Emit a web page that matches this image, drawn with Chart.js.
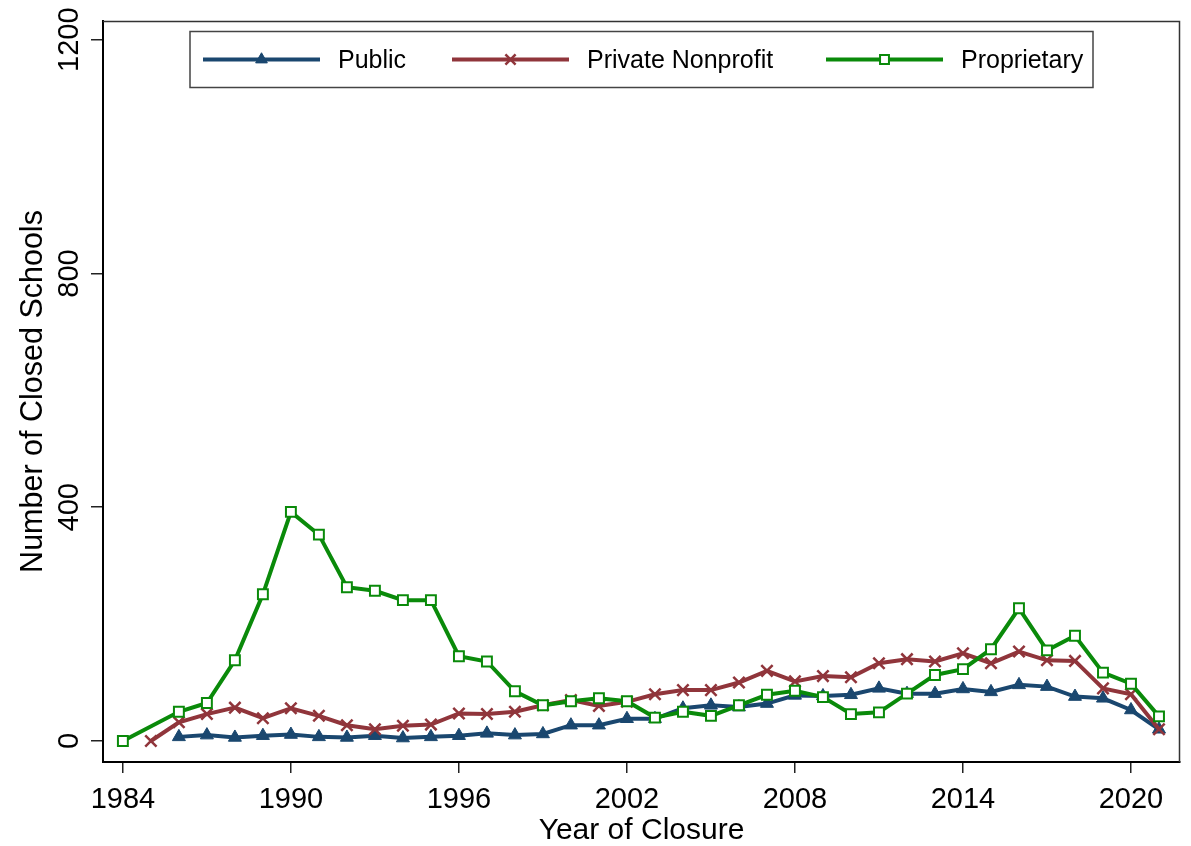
<!DOCTYPE html>
<html>
<head>
<meta charset="utf-8">
<script src="https://cdn.jsdelivr.net/npm/chart.js@4.4.0/dist/chart.umd.min.js"></script>
<style>
  html, body { margin: 0; padding: 0; background: #ffffff; }
  #wrap { width: 1191px; height: 846px; }
</style>
</head>
<body>
<div id="wrap"><canvas id="c" width="1191" height="846"></canvas></div>
<script>
// ---- data ----
const years = [1984,1985,1986,1987,1988,1989,1990,1991,1992,1993,1994,1995,1996,1997,1998,1999,
               2000,2001,2002,2003,2004,2005,2006,2007,2008,2009,2010,2011,2012,2013,2014,2015,
               2016,2017,2018,2019,2020,2021];
const publicVals = [null,null,7,10,6,9,11,7,6,9,5,7,9,13,10,12,
                    27,27,38,38,56,61,58,64,78,77,79,90,81,81,89,84,
                    96,93,76,73,53,20];
const privateVals = [null,0,32,46,57,39,56,43,27,20,26,28,47,46,50,61,
                     70,60,67,80,87,87,100,120,102,111,109,133,140,136,150,133,
                     153,138,137,90,80,20];
const proprietaryVals = [0,null,50,65,138,251,392,353,263,257,241,241,145,136,85,61,
                         68,73,68,40,50,43,61,79,86,75,46,49,81,113,123,157,
                         227,155,180,117,98,42];
const seriesNames = ['Public', 'Private Nonprofit', 'Proprietary'];
const xTicks = [1984, 1990, 1996, 2002, 2008, 2014, 2020];
const yTicks = [0, 400, 800, 1200];
const xTitle = 'Year of Closure';
const yTitle = 'Number of Closed Schools';

const FONT = '"Liberation Sans", Arial, sans-serif';
const NAVY = '#1a476f', MAROON = '#90353b', GREEN = '#0a8a0a';

function pts(vals) {
  return years.map((y, i) => ({ x: y, y: vals[i] })).filter(p => p.y !== null);
}

const datasets = [
  { label: seriesNames[0], data: pts(publicVals), borderColor: NAVY, borderWidth: 4,
    pointStyle: 'triangle', pointRadius: 7.5, pointBackgroundColor: NAVY, pointBorderColor: NAVY,
    pointBorderWidth: 1, order: 2, tension: 0 },
  { label: seriesNames[1], data: pts(privateVals), borderColor: MAROON, borderWidth: 4,
    pointStyle: 'crossRot', pointRadius: 8, pointBackgroundColor: MAROON, pointBorderColor: MAROON,
    pointBorderWidth: 2.5, order: 1, tension: 0 },
  { label: seriesNames[2], data: pts(proprietaryVals), borderColor: GREEN, borderWidth: 4,
    pointStyle: 'rect', pointRadius: 7, pointBackgroundColor: '#ffffff', pointBorderColor: GREEN,
    pointBorderWidth: 2, order: 0, tension: 0 }
];

function drawMarker(ctx, ds, x, y, scale) {
  const r = ds.pointRadius * scale;
  ctx.save();
  ctx.fillStyle = ds.pointBackgroundColor;
  ctx.strokeStyle = ds.pointBorderColor;
  ctx.lineWidth = ds.pointBorderWidth;
  ctx.beginPath();
  if (ds.pointStyle === 'triangle') {
    for (let k = 0; k < 3; k++) {
      const a = k * 2 * Math.PI / 3;
      const px = x + Math.sin(a) * r, py = y - Math.cos(a) * r;
      if (k === 0) ctx.moveTo(px, py); else ctx.lineTo(px, py);
    }
    ctx.closePath(); ctx.fill(); ctx.stroke();
  } else if (ds.pointStyle === 'crossRot') {
    const o = Math.SQRT1_2 * r;
    ctx.moveTo(x - o, y - o); ctx.lineTo(x + o, y + o);
    ctx.moveTo(x - o, y + o); ctx.lineTo(x + o, y - o);
    ctx.stroke();
  } else {
    const s = Math.SQRT1_2 * r;
    ctx.rect(x - s, y - s, 2 * s, 2 * s);
    ctx.fill(); ctx.stroke();
  }
  ctx.restore();
}

const framePlugin = {
  id: 'frameAndLegend',
  afterDraw(chart) {
    const ctx = chart.ctx, a = chart.chartArea;
    ctx.save();
    // top and right plot border
    ctx.strokeStyle = '#333';
    ctx.lineWidth = 1.5;
    ctx.beginPath();
    ctx.moveTo(a.left, a.top + 0.5);
    ctx.lineTo(a.right - 0.5, a.top + 0.5);
    ctx.lineTo(a.right - 0.5, a.bottom);
    ctx.stroke();
    // legend box
    const bx = 190, by = 31.5, bw = 903, bh = 56;
    ctx.fillStyle = '#fff';
    ctx.fillRect(bx, by, bw, bh);
    ctx.strokeStyle = '#444';
    ctx.lineWidth = 1.5;
    ctx.strokeRect(bx, by, bw, bh);
    const starts = [203, 452, 826];
    const ly = by + bh / 2;
    chart.data.datasets.forEach((ds, i) => {
      const sx = starts[i];
      ctx.strokeStyle = ds.borderColor;
      ctx.lineWidth = 4;
      ctx.beginPath();
      ctx.moveTo(sx, ly); ctx.lineTo(sx + 117, ly);
      ctx.stroke();
      drawMarker(ctx, ds, sx + 58.5, ly, 0.9);
      ctx.fillStyle = '#000';
      ctx.font = '25px ' + FONT;
      ctx.textBaseline = 'middle';
      ctx.textAlign = 'left';
      ctx.fillText(ds.label, sx + 135, ly + 2);
    });
    ctx.restore();
  }
};

new Chart(document.getElementById('c'), {
  type: 'line',
  data: { datasets },
  options: {
    responsive: false,
    animation: false,
    devicePixelRatio: 1,
    layout: { padding: { left: 0, top: 21, right: 11, bottom: 0 } },
    plugins: { legend: { display: false }, tooltip: { enabled: false } },
    scales: {
      x: {
        type: 'linear',
        min: 1983.29,
        max: 2021.75,
        afterBuildTicks: s => { s.ticks = xTicks.map(v => ({ value: v })); },
        afterFit: s => { s.height = 84; s.paddingLeft = 0; s.paddingRight = 0; },
        ticks: { callback: v => String(v), color: '#000', font: { family: FONT, size: 29 },
                 padding: 10, maxRotation: 0, autoSkip: false },
        grid: { display: true, drawOnChartArea: false, drawTicks: true, tickLength: 11,
                color: '#222', lineWidth: 1.5 },
        border: { display: true, color: '#000', width: 2 },
        title: { display: true, text: xTitle, color: '#000',
                 font: { family: FONT, size: 30, lineHeight: 1 }, padding: { top: 1, bottom: 0 } }
      },
      y: {
        type: 'linear',
        min: -36,
        max: 1232,
        afterBuildTicks: s => { s.ticks = yTicks.map(v => ({ value: v })); },
        afterFit: s => { s.width = 103; s.paddingTop = 0; s.paddingBottom = 0; },
        ticks: { callback: v => String(v), color: '#000', font: { family: FONT, size: 29 },
                 minRotation: 90, maxRotation: 90, crossAlign: 'center', padding: -11, autoSkip: false },
        grid: { display: true, drawOnChartArea: false, drawTicks: true, tickLength: 12,
                color: '#222', lineWidth: 1.5 },
        border: { display: true, color: '#000', width: 2 },
        title: { display: true, text: yTitle, color: '#000',
                 font: { family: FONT, size: 30.5, lineHeight: 1 }, padding: { top: 18, bottom: 0 } }
      }
    }
  },
  plugins: [framePlugin]
});
</script>
</body>
</html>
